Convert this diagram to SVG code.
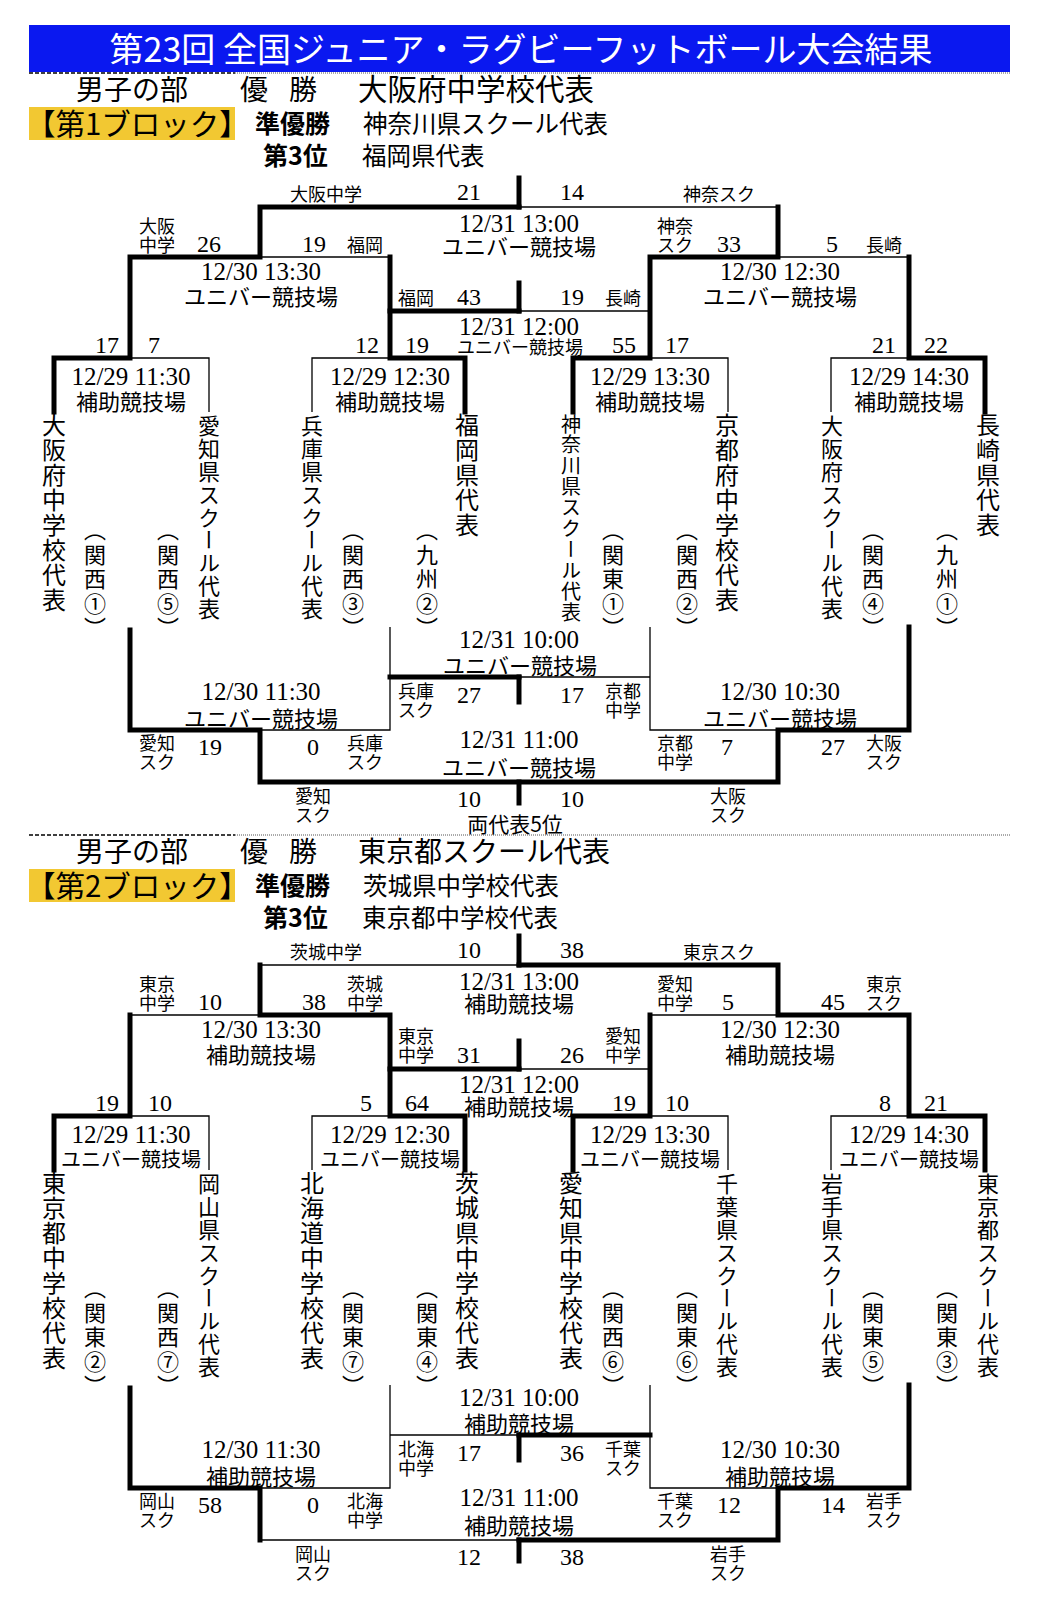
<svg xmlns="http://www.w3.org/2000/svg" width="1038" height="1612" viewBox="0 0 1038 1612">
<style>
.th{fill:none;stroke:#000;stroke-width:5;stroke-linecap:square;stroke-linejoin:miter}
.tn{fill:none;stroke:#000;stroke-width:1.3}
.j{font-family:"Noto Sans CJK JP",sans-serif;fill:#000}
.s{font-family:"Liberation Serif",serif;font-size:24px;fill:#000}
.d{font-family:"Liberation Serif",serif;font-size:25px;text-anchor:middle;fill:#000}
.v{font-family:"Noto Sans CJK JP",sans-serif;font-size:22px;text-anchor:middle;fill:#000}
.vs{font-family:"Noto Sans CJK JP",sans-serif;font-size:18px;text-anchor:middle;fill:#000}
.vm{font-family:"Noto Sans CJK JP",sans-serif;font-size:20px;text-anchor:middle;fill:#000}
.l{font-family:"Noto Sans CJK JP",sans-serif;font-size:18px;text-anchor:middle;fill:#000}
.ls{font-family:"Noto Sans CJK JP",sans-serif;font-size:18px;fill:#000}
.t8{writing-mode:vertical-rl;font-family:"Noto Sans CJK JP",sans-serif;font-size:24px;letter-spacing:1px;fill:#000}
.t9{writing-mode:vertical-rl;font-family:"Noto Sans CJK JP",sans-serif;font-size:22px;letter-spacing:0.8px;fill:#000}
.t10{writing-mode:vertical-rl;font-family:"Noto Sans CJK JP",sans-serif;font-size:20px;letter-spacing:0.9px;fill:#000}
.p{writing-mode:vertical-rl;font-family:"Noto Sans CJK JP",sans-serif;font-size:22px;letter-spacing:2.5px;fill:#000}
.h1{font-family:"Noto Sans CJK JP",sans-serif;font-size:28px;fill:#000}
.hn{font-family:"Noto Sans CJK JP",sans-serif;font-size:29.5px;fill:#000}
.blk{font-family:"Noto Sans CJK JP",sans-serif;font-size:29.5px;fill:#000}
.h2{font-family:"Noto Sans CJK JP",sans-serif;font-size:24.5px;fill:#000}
.hb{font-family:"Noto Sans CJK JP",sans-serif;font-size:25px;font-weight:bold;fill:#000}
.dash{stroke:#000;stroke-width:1.3;stroke-dasharray:4 2}
.dot{stroke:#555;stroke-width:1;stroke-dasharray:1 1}
</style>

<g id="title">
<rect x="29" y="25" width="981" height="47" fill="#0a18f0"/>
<text x="521" y="62" text-anchor="middle" font-family="Noto Sans CJK JP, sans-serif" font-size="34" fill="#fff">第23回 全国ジュニア・ラグビーフットボール大会結果</text>
<line class="dash" x1="29" y1="73" x2="235" y2="73"/>
<line class="dot" x1="235" y1="73" x2="1010" y2="73"/>
</g>

<g id="header1">
<text class="h1" x="76" y="100">男子の部</text>
<text class="h1" x="240" y="100">優</text>
<text class="h1" x="289" y="100">勝</text>
<text class="hn" x="358" y="100">大阪府中学校代表</text>
<rect x="29" y="107" width="206" height="33" fill="#f2c832"/>
<text class="blk" x="26" y="135">【第1ブロック】</text>
<text class="hb" x="255" y="133">準優勝</text>
<text class="h2" x="363" y="133">神奈川県スクール代表</text>
<text class="hb" x="263" y="165">第3位</text>
<text class="h2" x="362" y="165">福岡県代表</text>
</g>

<g id="connectors-block1">
<path class="th" d="M54,412 V358 H130 V257 H260 V207 H519"/>
<path class="th" d="M519,178 V207"/>
<path class="th" d="M465,412 V358 H390 V257"/>
<path class="th" d="M390,311 H519"/>
<path class="th" d="M519,283 V311"/>
<path class="th" d="M573,412 V358 H650 V257 H778 V207"/>
<path class="th" d="M985,412 V358 H909 V257"/>
<path class="tn" d="M130,358 H209 V412"/>
<path class="tn" d="M312,412 V358 H390"/>
<path class="tn" d="M260,257 H390"/>
<path class="tn" d="M519,207 H778"/>
<path class="tn" d="M519,311 H650"/>
<path class="tn" d="M650,358 H728 V412"/>
<path class="tn" d="M831,412 V358 H909"/>
<path class="tn" d="M778,257 H909"/>
<path class="th" d="M130,630 V730 H260 V782 H778 V730 H909 V627"/>
<path class="th" d="M519,782 V803"/>
<path class="th" d="M390,677 H519"/>
<path class="th" d="M519,677 V702"/>
<path class="tn" d="M390,627 V730 H260"/>
<path class="tn" d="M650,627 V730 H778"/>
<path class="tn" d="M519,677 H650"/>
</g>

<g id="b1-final">
<text class="ls" x="290" y="201">大阪中学</text>
<text class="s" x="457" y="200">21</text>
<text class="s" x="560" y="200">14</text>
<text class="ls" x="683" y="201">神奈スク</text>
<text class="d" x="519" y="232">12/31 13:00</text>
<text class="v" x="519" y="255">ユニバー競技場</text>
</g>
<g id="b1-semi-left">
<text class="l" x="157" y="233">大阪</text><text class="l" x="157" y="252">中学</text>
<text class="s" x="197" y="252">26</text>
<text class="s" x="302" y="252">19</text>
<text class="l" x="365" y="252">福岡</text>
<text class="d" x="261" y="280">12/30 13:30</text>
<text class="v" x="261" y="305">ユニバー競技場</text>
</g>
<g id="b1-semi-right">
<text class="l" x="675" y="233">神奈</text><text class="l" x="675" y="252">スク</text>
<text class="s" x="717" y="252">33</text>
<text class="s" x="826" y="252">5</text>
<text class="l" x="884" y="252">長崎</text>
<text class="d" x="780" y="280">12/30 12:30</text>
<text class="v" x="780" y="305">ユニバー競技場</text>
</g>
<g id="b1-third">
<text class="l" x="416" y="305">福岡</text>
<text class="s" x="457" y="305">43</text>
<text class="s" x="560" y="305">19</text>
<text class="l" x="623" y="305">長崎</text>
<text class="d" x="519" y="335">12/31 12:00</text>
<text class="vs" x="520" y="354">ユニバー競技場</text>
</g>
<g id="b1-r1">
<text class="s" x="95" y="353">17</text><text class="s" x="148" y="353">7</text>
<text class="s" x="355" y="353">12</text><text class="s" x="405" y="353">19</text>
<text class="s" x="612" y="353">55</text><text class="s" x="665" y="353">17</text>
<text class="s" x="872" y="353">21</text><text class="s" x="924" y="353">22</text>
<text class="d" x="131" y="385">12/29 11:30</text><text class="v" x="131" y="410">補助競技場</text>
<text class="d" x="390" y="385">12/29 12:30</text><text class="v" x="390" y="410">補助競技場</text>
<text class="d" x="650" y="385">12/29 13:30</text><text class="v" x="650" y="410">補助競技場</text>
<text class="d" x="909" y="385">12/29 14:30</text><text class="v" x="909" y="410">補助競技場</text>
</g>
<g id="b1-teams">
<text class="t8" x="54" y="413">大阪府中学校代表</text><text class="p" x="95" y="519">（関西①）</text>
<text class="p" x="168" y="519">（関西⑤）</text><text class="t9" x="209" y="415">愛知県スクール代表</text>
<text class="t9" x="312" y="415">兵庫県スクール代表</text><text class="p" x="353" y="519">（関西③）</text>
<text class="p" x="427" y="519">（九州②）</text><text class="t8" x="467" y="413">福岡県代表</text>
<text class="t10" x="571" y="414">神奈川県スクール代表</text><text class="p" x="613" y="519">（関東①）</text>
<text class="p" x="687" y="519">（関西②）</text><text class="t8" x="727" y="413">京都府中学校代表</text>
<text class="t9" x="832" y="415">大阪府スクール代表</text><text class="p" x="873" y="519">（関西④）</text>
<text class="p" x="947" y="519">（九州①）</text><text class="t8" x="988" y="413">長崎県代表</text>
</g>
<g id="b1-cons-1000">
<text class="d" x="519" y="648">12/31 10:00</text>
<text class="v" x="520" y="674">ユニバー競技場</text>
<text class="l" x="416" y="698">兵庫</text><text class="l" x="416" y="717">スク</text>
<text class="s" x="457" y="703">27</text>
<text class="s" x="560" y="703">17</text>
<text class="l" x="623" y="698">京都</text><text class="l" x="623" y="717">中学</text>
</g>
<g id="b1-cons-left">
<text class="d" x="261" y="700">12/30 11:30</text>
<text class="v" x="261" y="727">ユニバー競技場</text>
<text class="l" x="157" y="750">愛知</text><text class="l" x="157" y="769">スク</text>
<text class="s" x="198" y="755">19</text>
<text class="s" x="307" y="755">0</text>
<text class="l" x="365" y="750">兵庫</text><text class="l" x="365" y="769">スク</text>
</g>
<g id="b1-cons-right">
<text class="d" x="780" y="700">12/30 10:30</text>
<text class="v" x="780" y="727">ユニバー競技場</text>
<text class="l" x="675" y="750">京都</text><text class="l" x="675" y="769">中学</text>
<text class="s" x="721" y="755">7</text>
<text class="s" x="821" y="755">27</text>
<text class="l" x="884" y="750">大阪</text><text class="l" x="884" y="769">スク</text>
</g>
<g id="b1-cons-1100">
<text class="d" x="519" y="748">12/31 11:00</text>
<text class="v" x="519" y="776">ユニバー競技場</text>
<text class="l" x="313" y="803">愛知</text><text class="l" x="313" y="822">スク</text>
<text class="s" x="457" y="807">10</text>
<text class="s" x="560" y="807">10</text>
<text class="l" x="728" y="803">大阪</text><text class="l" x="728" y="822">スク</text>
<text class="j" x="515" y="832" font-size="21" text-anchor="middle">両代表5位</text>
</g>

<g id="separator">
<line class="dash" x1="29" y1="835" x2="235" y2="835"/>
<line class="dot" x1="235" y1="835" x2="1010" y2="835"/>
</g>

<g id="header2">
<text class="h1" x="76" y="862">男子の部</text>
<text class="h1" x="240" y="862">優</text>
<text class="h1" x="289" y="862">勝</text>
<text class="h1" x="358" y="862">東京都スクール代表</text>
<rect x="29" y="869" width="206" height="33" fill="#f2c832"/>
<text class="blk" x="26" y="897">【第2ブロック】</text>
<text class="hb" x="255" y="895">準優勝</text>
<text class="h2" x="363" y="895">茨城県中学校代表</text>
<text class="hb" x="263" y="927">第3位</text>
<text class="h2" x="362" y="927">東京都中学校代表</text>
</g>

<g id="connectors-block2">
<path class="th" d="M54,1170 V1116 H130 V1015"/>
<path class="th" d="M465,1170 V1116 H390 V1015 H260 V965"/>
<path class="th" d="M390,1069 H519"/>
<path class="th" d="M519,1041 V1069"/>
<path class="th" d="M519,936 V965"/>
<path class="th" d="M573,1170 V1116 H650 V1015"/>
<path class="th" d="M985,1170 V1116 H909 V1015 H778 V965 H519"/>
<path class="tn" d="M130,1116 H209 V1170"/>
<path class="tn" d="M312,1170 V1116 H390"/>
<path class="tn" d="M130,1015 H260"/>
<path class="tn" d="M260,965 H519"/>
<path class="tn" d="M519,1069 H650"/>
<path class="tn" d="M650,1116 H728 V1170"/>
<path class="tn" d="M831,1170 V1116 H909"/>
<path class="tn" d="M650,1015 H778"/>
<path class="th" d="M130,1388 V1488 H260 V1540"/>
<path class="th" d="M909,1385 V1488 H778 V1540 H519"/>
<path class="th" d="M519,1540 V1561"/>
<path class="th" d="M519,1435 H650"/>
<path class="th" d="M519,1435 V1460"/>
<path class="tn" d="M390,1385 V1488 H260"/>
<path class="tn" d="M650,1385 V1488 H778"/>
<path class="tn" d="M390,1435 H519"/>
<path class="tn" d="M260,1540 H519"/>
</g>

<g id="b2-final">
<text class="ls" x="290" y="959">茨城中学</text>
<text class="s" x="457" y="958">10</text>
<text class="s" x="560" y="958">38</text>
<text class="ls" x="683" y="959">東京スク</text>
<text class="d" x="519" y="990">12/31 13:00</text>
<text class="v" x="519" y="1012">補助競技場</text>
</g>
<g id="b2-semi-left">
<text class="l" x="157" y="991">東京</text><text class="l" x="157" y="1010">中学</text>
<text class="s" x="198" y="1010">10</text>
<text class="s" x="302" y="1010">38</text>
<text class="l" x="365" y="991">茨城</text><text class="l" x="365" y="1010">中学</text>
<text class="d" x="261" y="1038">12/30 13:30</text>
<text class="v" x="261" y="1063">補助競技場</text>
</g>
<g id="b2-semi-right">
<text class="l" x="675" y="991">愛知</text><text class="l" x="675" y="1010">中学</text>
<text class="s" x="722" y="1010">5</text>
<text class="s" x="821" y="1010">45</text>
<text class="l" x="884" y="991">東京</text><text class="l" x="884" y="1010">スク</text>
<text class="d" x="780" y="1038">12/30 12:30</text>
<text class="v" x="780" y="1063">補助競技場</text>
</g>
<g id="b2-third">
<text class="l" x="416" y="1043">東京</text><text class="l" x="416" y="1062">中学</text>
<text class="s" x="457" y="1063">31</text>
<text class="s" x="560" y="1063">26</text>
<text class="l" x="623" y="1043">愛知</text><text class="l" x="623" y="1062">中学</text>
<text class="d" x="519" y="1093">12/31 12:00</text>
<text class="v" x="519" y="1115">補助競技場</text>
</g>
<g id="b2-r1">
<text class="s" x="95" y="1111">19</text><text class="s" x="148" y="1111">10</text>
<text class="s" x="360" y="1111">5</text><text class="s" x="405" y="1111">64</text>
<text class="s" x="612" y="1111">19</text><text class="s" x="665" y="1111">10</text>
<text class="s" x="879" y="1111">8</text><text class="s" x="924" y="1111">21</text>
<text class="d" x="131" y="1143">12/29 11:30</text><text class="vm" x="131" y="1167">ユニバー競技場</text>
<text class="d" x="390" y="1143">12/29 12:30</text><text class="vm" x="390" y="1167">ユニバー競技場</text>
<text class="d" x="650" y="1143">12/29 13:30</text><text class="vm" x="650" y="1167">ユニバー競技場</text>
<text class="d" x="909" y="1143">12/29 14:30</text><text class="vm" x="909" y="1167">ユニバー競技場</text>
</g>
<g id="b2-teams">
<text class="t8" x="54" y="1171">東京都中学校代表</text><text class="p" x="95" y="1277">（関東②）</text>
<text class="p" x="168" y="1277">（関西⑦）</text><text class="t9" x="209" y="1173">岡山県スクール代表</text>
<text class="t8" x="312" y="1171">北海道中学校代表</text><text class="p" x="353" y="1277">（関東⑦）</text>
<text class="p" x="427" y="1277">（関東④）</text><text class="t8" x="467" y="1171">茨城県中学校代表</text>
<text class="t8" x="571" y="1171">愛知県中学校代表</text><text class="p" x="613" y="1277">（関西⑥）</text>
<text class="p" x="687" y="1277">（関東⑥）</text><text class="t9" x="727" y="1173">千葉県スクール代表</text>
<text class="t9" x="832" y="1173">岩手県スクール代表</text><text class="p" x="873" y="1277">（関東⑤）</text>
<text class="p" x="947" y="1277">（関東③）</text><text class="t9" x="988" y="1173">東京都スクール代表</text>
</g>
<g id="b2-cons-1000">
<text class="d" x="519" y="1406">12/31 10:00</text>
<text class="v" x="519" y="1432">補助競技場</text>
<text class="l" x="416" y="1456">北海</text><text class="l" x="416" y="1475">中学</text>
<text class="s" x="457" y="1461">17</text>
<text class="s" x="560" y="1461">36</text>
<text class="l" x="623" y="1456">千葉</text><text class="l" x="623" y="1475">スク</text>
</g>
<g id="b2-cons-left">
<text class="d" x="261" y="1458">12/30 11:30</text>
<text class="v" x="261" y="1485">補助競技場</text>
<text class="l" x="157" y="1508">岡山</text><text class="l" x="157" y="1527">スク</text>
<text class="s" x="198" y="1513">58</text>
<text class="s" x="307" y="1513">0</text>
<text class="l" x="365" y="1508">北海</text><text class="l" x="365" y="1527">中学</text>
</g>
<g id="b2-cons-right">
<text class="d" x="780" y="1458">12/30 10:30</text>
<text class="v" x="780" y="1485">補助競技場</text>
<text class="l" x="675" y="1508">千葉</text><text class="l" x="675" y="1527">スク</text>
<text class="s" x="717" y="1513">12</text>
<text class="s" x="821" y="1513">14</text>
<text class="l" x="884" y="1508">岩手</text><text class="l" x="884" y="1527">スク</text>
</g>
<g id="b2-cons-1100">
<text class="d" x="519" y="1506">12/31 11:00</text>
<text class="v" x="519" y="1534">補助競技場</text>
<text class="l" x="313" y="1561">岡山</text><text class="l" x="313" y="1580">スク</text>
<text class="s" x="457" y="1565">12</text>
<text class="s" x="560" y="1565">38</text>
<text class="l" x="728" y="1561">岩手</text><text class="l" x="728" y="1580">スク</text>
</g>
</svg>
